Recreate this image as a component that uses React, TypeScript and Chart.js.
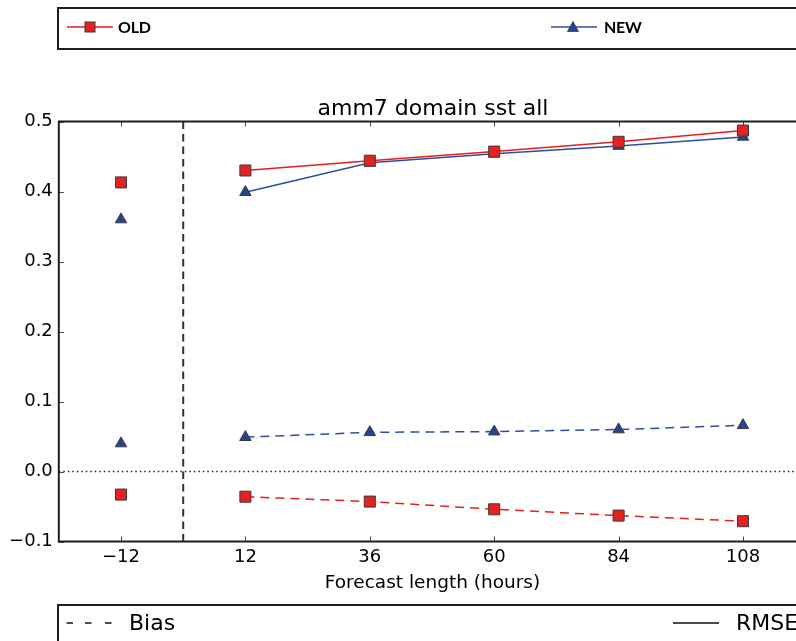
import React, { useEffect, useRef } from "react";
import { Chart, registerables } from "chart.js";

Chart.register(...registerables);

// ---- data ----
const hours = [-12, 12, 36, 60, 84, 108];
const xTickValues = [-12, 12, 36, 60, 84, 108];
const oldRmse = [0.413, 0.43, 0.444, 0.457, 0.471, 0.487];
const newRmse = [0.36, 0.399, 0.441, 0.454, 0.465, 0.478];
const oldBias = [-0.033, -0.036, -0.043, -0.054, -0.063, -0.071];
const newBias = [0.04, 0.049, 0.056, 0.057, 0.06, 0.066];
const titleText = "amm7 domain sst all";
const xLabelText = "Forecast length (hours)";

const RED = "#e41f22";
const RED_FILL = "#e5221f";
const BLUE = "#2f4ea0";
const BLUE_FILL = "#25448f";
const EDGE = "#3a3a3a";

const W = 830;
const H = 641;

const minus = (s: string) => s.replace("-", "\u2212");

function pts(vals: number[]) {
  return hours.map((h, i) => ({ x: h, y: vals[i] }));
}

function ds(label: string, vals: number[], color: string, fill: string, style: string, dashed: boolean) {
  return {
    label,
    data: pts(vals),
    borderColor: color,
    borderWidth: 1.5,
    borderDash: dashed ? [9, 6] : [],
    pointStyle: style,
    pointRadius: style === "rect" ? 7.8 : 6.6,
    pointBackgroundColor: fill,
    pointBorderColor: EDGE,
    pointBorderWidth: 1,
    fill: false,
    tension: 0,
    segment: {
      borderColor: (ctx: any) => (ctx.p0DataIndex === 0 ? "rgba(0,0,0,0)" : color),
    },
  };
}

const decoPlugin = {
  id: "deco",
  beforeDatasetsDraw(chart: any) {
    const { ctx, chartArea, scales } = chart;
    const x0 = scales.x.getPixelForValue(0);
    const y0 = scales.y.getPixelForValue(0);
    ctx.save();
    ctx.strokeStyle = "#333";
    ctx.lineWidth = 2;
    ctx.setLineDash([7.5, 5]);
    ctx.beginPath();
    ctx.moveTo(x0, chartArea.top);
    ctx.lineTo(x0, chartArea.bottom);
    ctx.stroke();
    ctx.strokeStyle = "#222";
    ctx.lineWidth = 1.5;
    ctx.setLineDash([1.5, 3]);
    ctx.beginPath();
    ctx.moveTo(chartArea.left, y0);
    ctx.lineTo(chartArea.right, y0);
    ctx.stroke();
    ctx.restore();
  },
  afterDraw(chart: any) {
    const { ctx, chartArea, scales } = chart;
    const { left, right, top, bottom } = chartArea;
    ctx.save();
    ctx.setLineDash([]);
    ctx.strokeStyle = "#444";
    ctx.lineWidth = 1;
    const tl = 5;
    ctx.beginPath();
    for (const v of xTickValues) {
      const x = Math.round(scales.x.getPixelForValue(v)) + 0.5;
      ctx.moveTo(x, bottom);
      ctx.lineTo(x, bottom - tl);
      ctx.moveTo(x, top);
      ctx.lineTo(x, top + tl);
    }
    for (const t of scales.y.ticks) {
      const y = Math.round(scales.y.getPixelForValue(t.value)) + 0.5;
      ctx.moveTo(left, y);
      ctx.lineTo(left + tl, y);
      ctx.moveTo(right, y);
      ctx.lineTo(right - tl, y);
    }
    ctx.stroke();
    ctx.strokeStyle = "#1e1e1e";
    ctx.lineWidth = 2;
    ctx.strokeRect(left, top, right - left, bottom - top);
    ctx.fillStyle = "#000";
    ctx.textAlign = "center";
    ctx.textBaseline = "alphabetic";
    ctx.font = "22px 'DejaVu Sans'";
    ctx.fillText(titleText, 433, 114.5);
    ctx.font = "18.5px 'DejaVu Sans'";
    ctx.fillText(xLabelText, 432.5, 588);
    ctx.restore();
  },
};

export default function App() {
  const ref = useRef<HTMLCanvasElement | null>(null);
  useEffect(() => {
    if (!ref.current) return;
    const chart = new Chart(ref.current, {
      type: "line",
      data: {
        datasets: [
          ds("OLD RMSE", oldRmse, RED, RED_FILL, "rect", false),
          ds("OLD Bias", oldBias, RED, RED_FILL, "rect", true),
          ds("NEW RMSE", newRmse, BLUE, BLUE_FILL, "triangle", false),
          ds("NEW Bias", newBias, BLUE, BLUE_FILL, "triangle", true),
        ] as any,
      },
      options: {
        animation: false,
        responsive: false,
        devicePixelRatio: 1,
        layout: { padding: { left: 0, top: 121.5, right: W - 805.2, bottom: 0 } },
        plugins: { legend: { display: false }, tooltip: { enabled: false }, title: { display: false } },
        scales: {
          x: {
            type: "linear",
            min: -24,
            max: 120,
            grid: { display: false, drawTicks: false },
            border: { display: false },
            afterBuildTicks: (scale: any) => {
              scale.ticks = xTickValues.map((v) => ({ value: v }));
            },
            afterFit: (scale: any) => {
              scale.height = H - 541.5;
            },
            ticks: {
              padding: 5,
              color: "#000",
              font: { family: "'DejaVu Sans'", size: 18 },
              callback: (v: any) => minus(String(v)),
              maxRotation: 0,
              autoSkip: false,
            },
          },
          y: {
            min: -0.1,
            max: 0.5,
            grid: { display: false, drawTicks: false },
            border: { display: false },
            afterFit: (scale: any) => {
              scale.width = 58.8;
            },
            ticks: {
              stepSize: 0.1,
              padding: 6,
              color: "#000",
              font: { family: "'DejaVu Sans'", size: 18 },
              callback: (v: any) => minus((Math.round(Number(v) * 10) / 10).toFixed(1)),
            },
          },
        },
      },
      plugins: [decoPlugin],
    });
    return () => chart.destroy();
  }, []);

  const boxStyle: React.CSSProperties = {
    position: "absolute",
    left: 57,
    width: 800,
    border: "2px solid #1e1e1e",
    boxSizing: "border-box",
    background: "transparent",
  };
  const abs: React.CSSProperties = { position: "absolute", whiteSpace: "nowrap" };

  return (
    <div style={{ position: "fixed", left: 0, top: 0, width: 796, height: 641, overflow: "hidden", background: "#fff" }}>
      <canvas ref={ref} width={W} height={H} style={{ position: "absolute", left: 0, top: 0, width: W, height: H }} />
      <div style={{ ...boxStyle, top: 7, height: 43 }} />
      <svg width={796} height={641} style={{ position: "absolute", left: 0, top: 0 }}>
        <line x1={67} y1={27} x2={113} y2={27} stroke={RED} strokeWidth={1.5} />
        <rect x={85} y={22} width={10} height={10} fill={RED_FILL} stroke={EDGE} strokeWidth={1} />
        <line x1={551} y1={27} x2={597} y2={27} stroke={BLUE} strokeWidth={1.5} />
        <polygon points="573,21.5 578.5,31.5 567.5,31.5" fill={BLUE_FILL} stroke={EDGE} strokeWidth={0.8} />
        <g stroke="#111" strokeWidth={1.5}>
          <line x1={66.5} y1={623} x2={73} y2={623} />
          <line x1={85} y1={623} x2={91.5} y2={623} />
          <line x1={105} y1={623} x2={111.5} y2={623} />
          <line x1={673} y1={623} x2={719} y2={623} />
        </g>
      </svg>
      <div style={{ ...abs, left: 118, top: 17, font: "700 16px Lato", color: "#000", letterSpacing: "-0.3px", lineHeight: "20px" }}>OLD</div>
      <div style={{ ...abs, left: 604, top: 17, font: "700 16px Lato", color: "#000", letterSpacing: "-0.3px", lineHeight: "20px" }}>NEW</div>
      <div style={{ ...boxStyle, top: 604, height: 60 }} />
      <div style={{ ...abs, left: 129, top: 610, font: "22px 'DejaVu Sans'", color: "#000", lineHeight: "26px" }}>Bias</div>
      <div style={{ ...abs, left: 736, top: 610, font: "22px 'DejaVu Sans'", color: "#000", lineHeight: "26px" }}>RMSE</div>
    </div>
  );
}
